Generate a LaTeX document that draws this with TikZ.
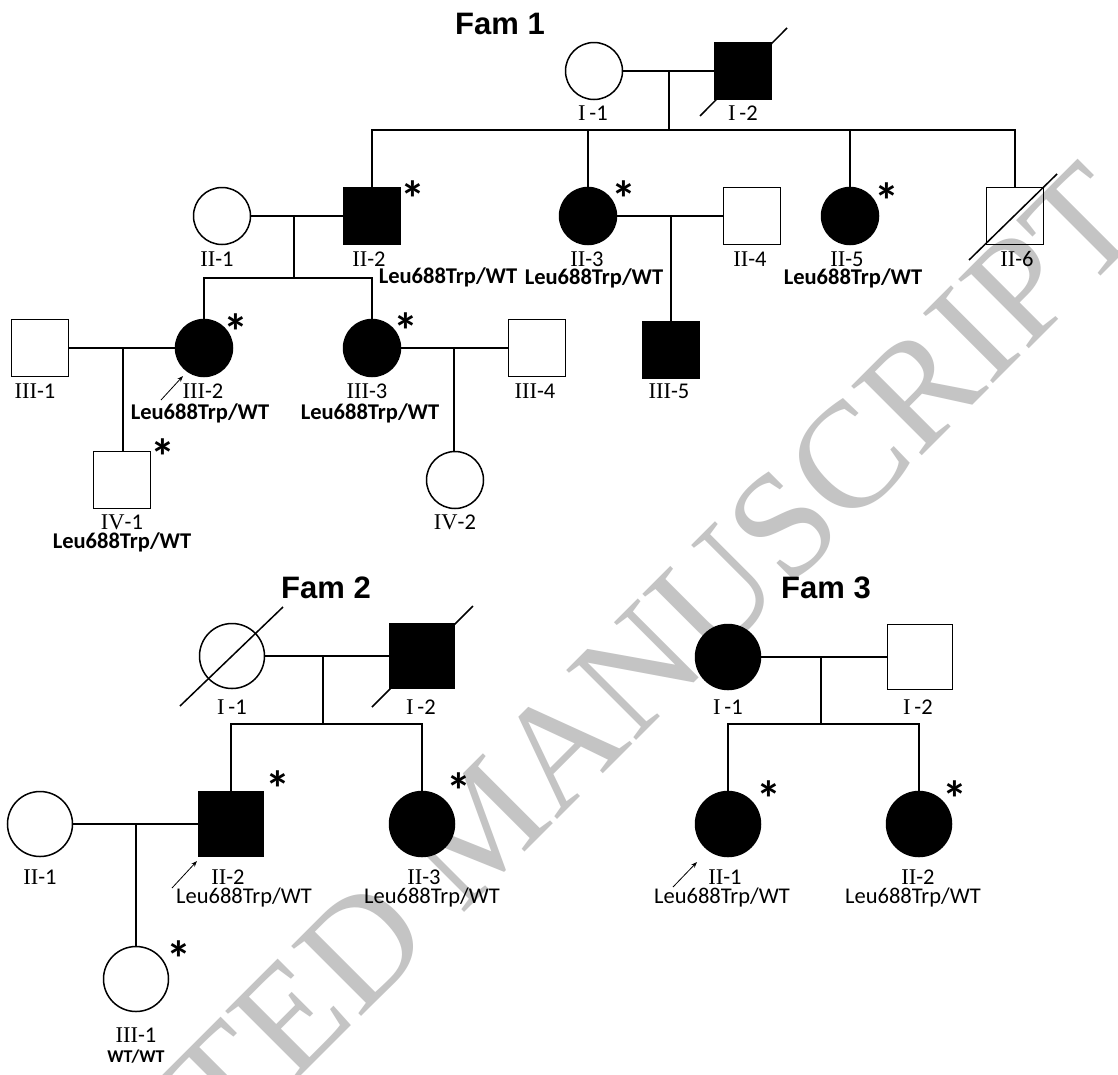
\documentclass[tikz,border=0pt]{standalone}
\usepackage{fontspec}
\newfontfamily\calf{Carlito}
\newfontfamily\tnrf{Liberation Serif}
\newfontfamily\arif{Liberation Sans}
\usetikzlibrary{arrows.meta}
\newcommand{\gl}[2]{{\tnrf #1}#2}
\begin{document}
\begin{tikzpicture}[x=1pt,y=-1pt,
  sq/.style={draw, line width=1.5pt, rectangle, minimum size=#1, inner sep=0pt},
  sq/.default=57,
  ci/.style={draw, line width=1.5pt, circle, minimum size=#1, inner sep=0pt},
  ci/.default=57,
  aff/.style={fill=black},
  ln/.style={line width=1.5pt},
  lab/.style={font=\calf\fontsize{22.5}{24}\selectfont, inner sep=0pt},
  geno/.style={font=\calf\bfseries\fontsize{22.5}{24}\selectfont, inner sep=0pt},
  genor/.style={font=\calf\fontsize{22.5}{24}\selectfont, inner sep=0pt},
  starm/.style={font=\calf\bfseries\fontsize{50}{52}\selectfont, inner sep=0pt, anchor=base},
  ttl/.style={font=\arif\bfseries\fontsize{31}{34}\selectfont, inner sep=0pt},
  prb/.style={-{Stealth[length=6pt,width=4.5pt]}, line width=0.8pt},
  wm/.style={font=\tnrf\fontsize{151}{160}\selectfont, text=black!23, inner sep=0pt}
]
\useasboundingbox (0,0) rectangle (1118,1074);
\fill[white] (0,0) rectangle (1118,1074);
% watermark
\node[wm, rotate=45] (wmk) at (482,826) {ACCEPTED MANUSCRIPT};

% ================= Fam 1 =================
\node[ttl] (t1) at (500,24) {Fam 1};
\node[ci] (f1I1) at (594,71) {};
\node[sq, aff] (f1I2) at (743,71) {};
\draw[ln] (700,116) -- (787,28);
\coordinate (m1) at (669,71);
\coordinate (s1) at (669,130);
\draw[ln] (f1I1.east) -- (f1I2.west);
\draw[ln] (m1) -- (s1);

\node[ci] (f1II1) at (222,216) {};
\node[sq, aff] (f1II2) at (372,216) {};
\node[ci, aff] (f1II3) at (588,216) {};
\node[sq] (f1II4) at (752,216) {};
\node[ci, aff] (f1II5) at (850,216) {};
\node[sq] (f1II6) at (1015,216) {};
\draw[ln] (969,260) -- (1057,174);
\draw[ln] (f1II2.north) |- (s1) -| (f1II6.north);
\draw[ln] (f1II3.north) -- (f1II3.north |- s1);
\draw[ln] (f1II5.north) -- (f1II5.north |- s1);

\draw[ln] (f1II1.east) -- (f1II2.west);
\coordinate (m2) at (294,216);
\coordinate (s2) at (294,278);
\draw[ln] (m2) -- (s2);
\draw[ln] (f1II3.east) -- (f1II4.west);
\coordinate (m3) at (671,216);

\node[sq] (f1III1) at (40,348) {};
\node[ci, aff] (f1III2) at (204,348) {};
\node[ci, aff] (f1III3) at (372,348) {};
\node[sq] (f1III4) at (537,348) {};
\node[sq, aff] (f1III5) at (671,350) {};
\draw[ln] (m3) -- (f1III5.north);
\draw[ln] (f1III2.north) |- (s2) -| (f1III3.north);
\draw[ln] (f1III1.east) -- (f1III2.west);
\draw[ln] (f1III3.east) -- (f1III4.west);
\coordinate (m4) at (123,348);
\coordinate (m5) at (454,348);

\node[sq] (f1IV1) at (122,480) {};
\node[ci] (f1IV2) at (455,480) {};
\draw[ln] (m4) -- (m4 |- f1IV1.north);
\draw[ln] (m5) -- (m5 |- f1IV2.north);

% labels fam 1
\node[lab] (l1) at (593,113) {\gl{I}{\,-1}};
\node[lab] (l2) at (743,113) {\gl{I}{\,-2}};
\node[lab] (l3) at (217,259) {\gl{II}{-1}};
\node[lab] (l4) at (369,259) {\gl{II}{-2}};
\node[lab] (l5) at (587,259) {\gl{II}{-3}};
\node[lab] (l6) at (750,259) {\gl{II}{-4}};
\node[lab] (l7) at (847,259) {\gl{II}{-5}};
\node[lab] (l8) at (1017,259) {\gl{II}{-6}};
\node[lab] (l9) at (35,391) {\gl{III}{-1}};
\node[lab] (l10) at (203,391) {\gl{III}{-2}};
\node[lab] (l11) at (367,391) {\gl{III}{-3}};
\node[lab] (l12) at (535,391) {\gl{III}{-4}};
\node[lab] (l13) at (669,391) {\gl{III}{-5}};
\node[lab] (l14) at (122,522) {\gl{IV}{-1}};
\node[lab] (l15) at (455,522) {\gl{IV}{-2}};

\node[geno] (g1) at (448,277) {Leu688Trp/WT};
\node[geno] (g2) at (594,278) {Leu688Trp/WT};
\node[geno] (g3) at (853,278) {Leu688Trp/WT};
\node[geno] (g4) at (200,413) {Leu688Trp/WT};
\node[geno] (g5) at (370,413) {Leu688Trp/WT};
\node[geno] (g6) at (122,542) {Leu688Trp/WT};

\node[starm] (st1) at (413,216) {*};
\node[starm] (st2) at (624,216) {*};
\node[starm] (st3) at (887,218) {*};
\node[starm] (st4) at (236,349) {*};
\node[starm] (st5) at (406,348) {*};
\node[starm] (st6) at (163,474) {*};

\coordinate (p1) at (161,400);
\coordinate (p1e) at (183,376);
\draw[prb] (p1) -- (p1e);

% ================= Fam 2 =================
\node[ttl] (t2) at (326,588) {Fam 2};
\node[ci=65] (f2I1) at (232,656) {};
\node[sq=65, aff] (f2I2) at (422,656) {};
\draw[ln] (180,706) -- (283,607);
\draw[ln] (372,707) -- (473,606);
\draw[ln] (f2I1.east) -- (f2I2.west);
\coordinate (m6) at (323,656);
\coordinate (s6) at (323,724);
\draw[ln] (m6) -- (s6);

\node[ci=65] (f2II1) at (40,824) {};
\node[sq=65, aff] (f2II2) at (231,824) {};
\node[ci=65, aff] (f2II3) at (422,824) {};
\draw[ln] (f2II2.north) |- (s6) -| (f2II3.north);
\draw[ln] (f2II1.east) -- (f2II2.west);
\coordinate (m7) at (136,824);
\node[ci=65] (f2III1) at (136,979) {};
\draw[ln] (m7) -- (f2III1.north);

\node[lab] (l16) at (232,707) {\gl{I}{\,-1}};
\node[lab] (l17) at (421,707) {\gl{I}{\,-2}};
\node[lab] (l18) at (40,877) {\gl{II}{-1}};
\node[lab] (l19) at (228,877) {\gl{II}{-2}};
\node[lab] (l20) at (424,877) {\gl{II}{-3}};
\node[lab] (l21) at (136,1035) {\gl{III}{-1}};
\node[genor] (g7) at (244,897) {Leu688Trp/WT};
\node[genor] (g8) at (432,897) {Leu688Trp/WT};
\node[geno, font=\calf\bfseries\fontsize{18}{20}\selectfont] (g9) at (136,1057) {WT/WT};

\node[starm] (st7) at (278,806) {*};
\node[starm] (st8) at (459,808) {*};
\node[starm] (st9) at (179,976) {*};

\coordinate (p2) at (172,888);
\coordinate (p2e) at (197,861);
\draw[prb] (p2) -- (p2e);

% ================= Fam 3 =================
\node[ttl] (t3) at (826,588) {Fam 3};
\node[ci=65, aff] (f3I1) at (728,657) {};
\node[sq=65] (f3I2) at (920,657) {};
\draw[ln] (f3I1.east) -- (f3I2.west);
\coordinate (m8) at (821,657);
\coordinate (s8) at (821,724);
\draw[ln] (m8) -- (s8);
\node[ci=65, aff] (f3II1) at (728,824) {};
\node[ci=65, aff] (f3II2) at (919,824) {};
\draw[ln] (f3II1.north) |- (s8) -| (f3II2.north);

\node[lab] (l22) at (728,707) {\gl{I}{\,-1}};
\node[lab] (l23) at (918,707) {\gl{I}{\,-2}};
\node[lab] (l24) at (725,877) {\gl{II}{-1}};
\node[lab] (l25) at (918,877) {\gl{II}{-2}};
\node[genor] (g10) at (722,897) {Leu688Trp/WT};
\node[genor] (g11) at (913,897) {Leu688Trp/WT};

\node[starm] (st10) at (769,816) {*};
\node[starm] (st11) at (955,816) {*};

\coordinate (p3) at (673,887);
\coordinate (p3e) at (697,862);
\draw[prb] (p3) -- (p3e);
\end{tikzpicture}
\end{document}
